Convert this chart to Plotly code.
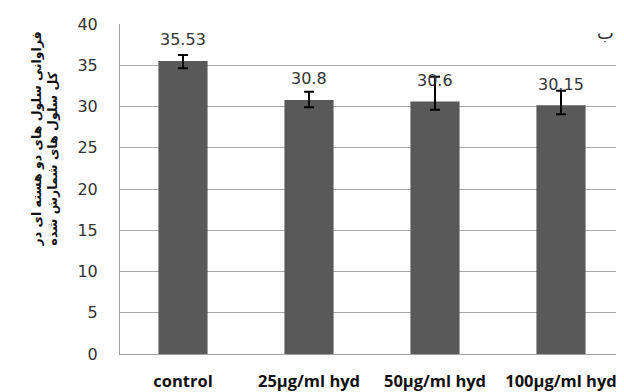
import plotly.graph_objects as go

categories = ["control", "25µg/ml hyd", "50µg/ml hyd", "100µg/ml hyd"]
values = [35.53, 30.8, 30.6, 30.15]
err_plus = [0.7, 1.0, 3.0, 1.75]
err_minus = [0.9, 0.9, 1.0, 1.1]
value_labels = ["35.53", "30.8", "30.6", "30.15"]
y_title = "فراوانی سلول های دو هسته ای در<br>کل سلول های شمارش شده"
corner_label = "ب"

fig = go.Figure()
fig.add_trace(go.Bar(
    x=categories, y=values, width=0.39,
    marker=dict(color="#595959", line=dict(width=0)),
    error_y=dict(type="data", symmetric=False, array=err_plus, arrayminus=err_minus,
                 color="black", thickness=2, width=5),
    hoverinfo="skip",
))
for c, v, t in zip(categories, values, value_labels):
    fig.add_annotation(x=c, y=v, text=t, showarrow=False, yshift=21,
                       font=dict(family="DejaVu Sans", size=16, color="#333333"))
fig.add_annotation(x=1, xref="paper", xanchor="right", y=39, yref="y",
                   text=corner_label, showarrow=False, xshift=-8,
                   font=dict(family="DejaVu Sans", size=18, color="#333333"))
fig.add_annotation(x=0, xref="paper", xanchor="center", xshift=-76,
                   y=26, yref="y", yanchor="middle",
                   text=y_title, showarrow=False, textangle=-90, align="left",
                   font=dict(family="DejaVu Sans", size=12.5, color="#111111",
                             weight="bold"))

# page body has an 8px margin; offsets compensate so the plot area sits at 120..624 x 24..354
fig.update_layout(
    width=624, height=392,
    margin=dict(l=112, r=8, t=16, b=46, autoexpand=False),
    paper_bgcolor="white", plot_bgcolor="white",
    showlegend=False,
    xaxis=dict(
        type="category", range=[-0.5, 3.5],
        tickmode="array", tickvals=categories,
        ticktext=["<b>%s</b>" % c for c in categories],
        tickfont=dict(family="Open Sans", size=16.5, color="#111111"),
        showline=True, linecolor="#a0a0a0", linewidth=1,
        ticks="", showgrid=False, automargin=False, ticklabelstandoff=12,
    ),
    yaxis=dict(
        range=[0, 40], dtick=5, tick0=0,
        tickfont=dict(family="DejaVu Sans", size=16, color="#333333"),
        showgrid=True, gridcolor="#a8a8a8", gridwidth=1,
        showline=True, linecolor="#a0a0a0", linewidth=1,
        ticks="", ticklabelstandoff=18, zeroline=False, automargin=False,
    ),
)
fig.write_html("out.html")
